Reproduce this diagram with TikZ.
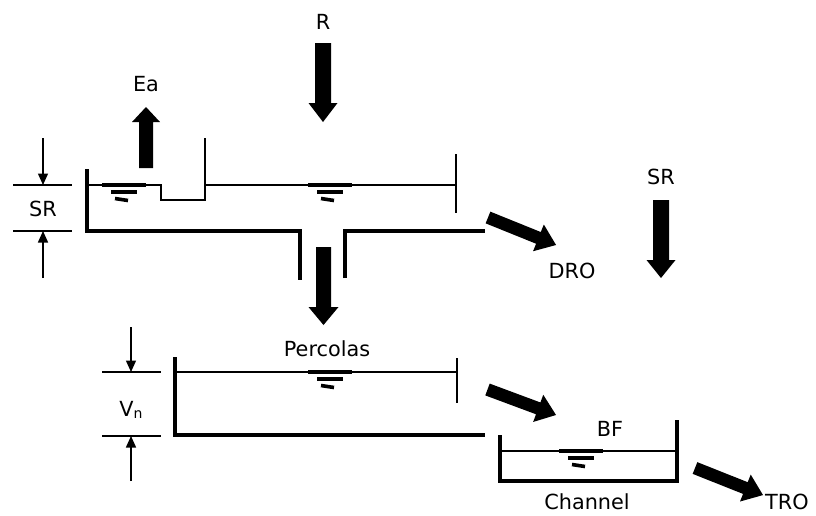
\documentclass[tikz,border=0pt]{standalone}
\usepackage{fontspec}
\setmainfont{DejaVu Sans}
\usetikzlibrary{arrows.meta}
\tikzset{
  lbl/.style={font=\fontsize{20.8}{24}\selectfont, inner sep=0pt},
  wall/.style={line width=3.3pt, line cap=butt, line join=miter},
  thinline/.style={line width=1.4pt},
  dimarrow/.style={line width=1.4pt, -{Triangle[length=11.5pt,width=10pt]}},
  pics/blockarrow/.style n args={4}{code={
    \fill (0,-#2) -- ({#1-#4},-#2) -- ({#1-#4},-#3) -- (#1,0) -- ({#1-#4},#3) -- ({#1-#4},#2) -- (0,#2) -- cycle;
  }},
  pics/waterlevel/.style={code={
    \draw[line width=3.6pt] (-22,0) -- (22,0);
    \draw[line width=3.6pt] (-13,-7) -- (13,-7);
    \draw[line width=3.6pt] (-9,-13.5) -- (4,-15.5);
  }}
}
\begin{document}
\begin{tikzpicture}[x=1pt,y=1pt]
\useasboundingbox (0,0) rectangle (816,-515);

% labels
\node[lbl] (lR) at (323,-21.5) {R};
\node[lbl] (lEa) at (146,-84) {Ea};
\node[lbl] (lSRl) at (43,-209) {SR};
\node[lbl] (lSRr) at (661,-177) {SR};
\node[lbl] (lDRO) at (572,-270.5) {DRO};
\node[lbl] (lPerc) at (327,-349) {Percolas};
\node[lbl] (lVn) at (131,-410) {V{\fontsize{14}{14}\selectfont\raisebox{-1.5pt}{n}}};
\node[lbl] (lBF) at (610,-429) {BF};
\node[lbl] (lCh) at (587,-502) {Channel};
\node[lbl] (lTRO) at (787,-502) {TRO};

% upper (surface) tank
\draw[wall] (87,-169) -- (87,-231) -- (300,-231) -- (300,-280);
\draw[wall] (345,-278) -- (345,-231) -- (485,-231);
\draw[thinline] (87,-185) -- (161,-185) -- (161,-200) -- (205,-200) -- (205,-138);
\draw[thinline] (205,-185) -- (456,-185);
\draw[thinline] (456,-154) -- (456,-213);
\pic at (124,-185) {waterlevel};
\pic at (330,-185) {waterlevel};

% SR dimension
\draw[thinline] (13,-185) -- (72,-185);
\draw[thinline] (13,-231) -- (72,-231);
\coordinate (sra) at (43,-138);
\coordinate (srb) at (43,-185);
\coordinate (src) at (43,-278);
\coordinate (srd) at (43,-231);
\draw[dimarrow] (sra) -- (srb);
\draw[dimarrow] (src) -- (srd);

% lower (groundwater) tank
\draw[wall] (175,-357) -- (175,-435) -- (485,-435);
\draw[thinline] (175,-372) -- (457,-372);
\draw[thinline] (457,-358) -- (457,-403);
\pic at (330,-372) {waterlevel};

% Vn dimension
\draw[thinline] (102,-372) -- (161,-372);
\draw[thinline] (102,-436) -- (161,-436);
\coordinate (vna) at (131,-327);
\coordinate (vnb) at (131,-372);
\coordinate (vnc) at (131,-481);
\coordinate (vnd) at (131,-436);
\draw[dimarrow] (vna) -- (vnb);
\draw[dimarrow] (vnc) -- (vnd);

% channel
\draw[wall] (500,-435) -- (500,-481) -- (677,-481) -- (677,-420);
\draw[thinline] (500,-451) -- (677,-451);
\pic at (581,-451) {waterlevel};

% block arrows
\pic[rotate=-90] at (323,-43) {blockarrow={79}{8}{14.5}{19}};
\pic[rotate=90] at (146,-168) {blockarrow={61}{7}{14}{15}};
\pic[rotate=-90] at (323.5,-247) {blockarrow={78}{7.5}{15}{18}};
\pic[rotate=-90] at (661,-200) {blockarrow={78}{8}{14.5}{18}};
\pic[rotate=-22] at (488,-217.5) {blockarrow={73.4}{6.3}{14.4}{19}};
\pic[rotate=-20.4] at (487.5,-389.5) {blockarrow={73.1}{6.3}{14.5}{19}};
\pic[rotate=-21.7] at (695,-468) {blockarrow={73.2}{6.3}{14.5}{19}};
\end{tikzpicture}
\end{document}
